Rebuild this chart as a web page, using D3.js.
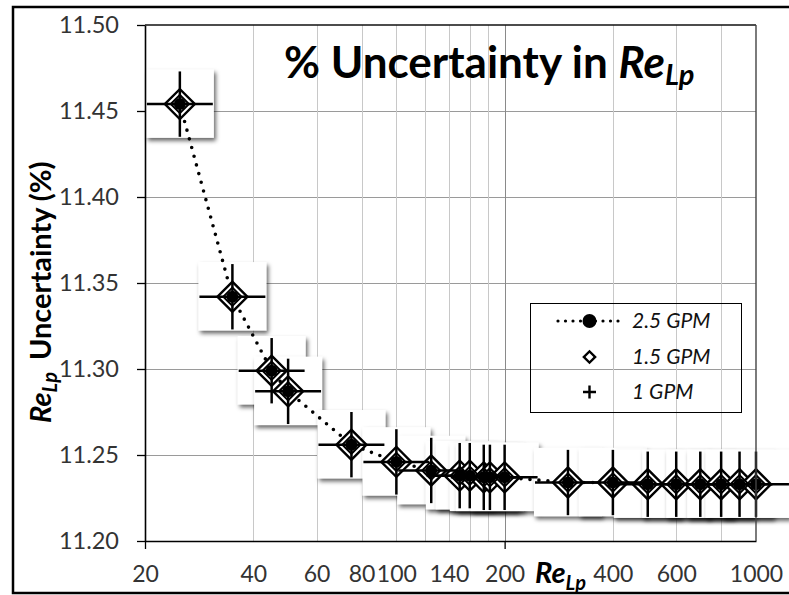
<!DOCTYPE html>
<html><head><meta charset="utf-8">
<script src="https://cdn.jsdelivr.net/npm/d3@7"></script>
<style>
body{margin:0;background:#fff}
svg{display:block}
text{font-family:Lato,'Open Sans',sans-serif}
</style>
</head><body>
<svg id="c" width="789" height="595"></svg>
<script>
// ---- data ----
const reLp    = [25, 35, 45, 50, 75, 100, 125, 150, 160, 175, 182, 200, 300, 400, 500, 600, 700, 800, 900, 1000];
const unc2_5  = [11.454, 11.342, 11.299, 11.287, 11.256, 11.246, 11.241, 11.238, 11.238, 11.237, 11.237, 11.237, 11.234, 11.234, 11.233, 11.233, 11.233, 11.233, 11.233, 11.233];
const unc1_5  = [11.454, 11.342, 11.299, 11.287, 11.256, 11.246, 11.241, 11.238, 11.238, 11.237, 11.237, 11.237, 11.234, 11.234, 11.233, 11.233, 11.233, 11.233, 11.233, 11.233];
const unc1    = [11.454, 11.342, 11.299, 11.287, 11.256, 11.246, 11.241, 11.238, 11.238, 11.237, 11.237, 11.237, 11.234, 11.234, 11.233, 11.233, 11.233, 11.233, 11.233, 11.233];
const seriesNames = ["2.5 GPM", "1.5 GPM", "1 GPM"];
const xTickLabels = [20, 40, 60, 80, 100, 140, 200, 400, 600, 1000];
const xMinorGrid  = [40, 60, 80, 100, 120, 140, 160, 180, 400, 600, 800];
const xMajorGrid  = [200];
const xMajorTicks = [20, 200];
const yTicks = [11.20, 11.25, 11.30, 11.35, 11.40, 11.45, 11.50];
const yErr = 0.019;        // vertical error bar half-size
const xErrFactor = 1.235;  // horizontal error bar (multiplicative)

// ---- layout ----
const L = 145, R = 756, T = 25, B = 541;
const FONT = "Lato,'Open Sans',sans-serif";
const svg = d3.select("#c");
const x = d3.scaleLog().domain([20, 1000]).range([L, R]);
const y = d3.scaleLinear().domain([11.20, 11.50]).range([B, T]);

const defs = svg.append("defs");
const flt = defs.append("filter").attr("id", "sh")
  .attr("x", "-30%").attr("y", "-30%").attr("width", "170%").attr("height", "180%");
flt.append("feDropShadow").attr("dx", 2).attr("dy", 3).attr("stdDeviation", 2.2)
  .attr("flood-color", "#000").attr("flood-opacity", 0.6);

// outer frame
svg.append("rect").attr("x", 13).attr("y", 7).attr("width", 800).attr("height", 586)
  .attr("fill", "#fff").attr("stroke", "#000").attr("stroke-width", 2.5);

// gridlines
const grid = svg.append("g");
grid.selectAll(".hg").data(yTicks.filter(v => v > 11.2 && v < 11.5)).join("line")
  .attr("x1", L).attr("x2", R)
  .attr("y1", d => Math.round(y(d)) + 0.5).attr("y2", d => Math.round(y(d)) + 0.5)
  .attr("stroke", "#9a9a9a").attr("stroke-width", 1);
grid.selectAll(".vm").data(xMinorGrid).join("line")
  .attr("x1", d => Math.round(x(d)) + 0.5).attr("x2", d => Math.round(x(d)) + 0.5)
  .attr("y1", T).attr("y2", B)
  .attr("stroke", "#c8c8c8").attr("stroke-width", 1);
grid.selectAll(".vM").data(xMajorGrid).join("line")
  .attr("x1", d => Math.round(x(d)) + 0.5).attr("x2", d => Math.round(x(d)) + 0.5)
  .attr("y1", T).attr("y2", B)
  .attr("stroke", "#8a8a8a").attr("stroke-width", 1);

const pts = reLp.map((r, i) => ({ r, v: unc2_5[i], v15: unc1_5[i], v1: unc1[i] }));

// error-bar shadow boxes
svg.append("g").selectAll("rect").data(pts).join("rect")
  .attr("x", d => x(d.r / xErrFactor) - 1)
  .attr("y", d => y(d.v + yErr) - 2)
  .attr("width", d => x(d.r * xErrFactor) - x(d.r / xErrFactor) + 2)
  .attr("height", d => y(d.v - yErr) - y(d.v + yErr) + 3)
  .attr("fill", "#fff").attr("filter", "url(#sh)");

// dotted line (2.5 GPM)
svg.append("path").datum(pts)
  .attr("d", d3.line().x(d => x(d.r)).y(d => y(d.v)))
  .attr("fill", "none").attr("stroke", "#000").attr("stroke-width", 3.6)
  .attr("stroke-linecap", "round").attr("stroke-dasharray", "0,9");

// 1.5 GPM diamonds (double outline)
const dOuter = d3.symbol(d3.symbolSquare, 450)();
const dInner = d3.symbol(d3.symbolSquare, 165)();
const dg = svg.append("g");
dg.selectAll(".do").data(pts).join("path")
  .attr("d", dOuter).attr("transform", d => `translate(${x(d.r)},${y(d.v15)}) rotate(45)`)
  .attr("fill", "#fff").attr("stroke", "#000").attr("stroke-width", 2.4);
dg.selectAll(".di").data(pts).join("path")
  .attr("d", dInner).attr("transform", d => `translate(${x(d.r)},${y(d.v15)}) rotate(45)`)
  .attr("fill", "#fff").attr("stroke", "#000").attr("stroke-width", 2);

// error bars
const eb = svg.append("g").attr("stroke", "#000").attr("stroke-width", 2.5);
eb.selectAll(".ev").data(pts).join("line")
  .attr("x1", d => x(d.r)).attr("x2", d => x(d.r))
  .attr("y1", d => y(d.v + yErr)).attr("y2", d => y(d.v - yErr));
eb.selectAll(".eh").data(pts).join("line")
  .attr("x1", d => x(d.r / xErrFactor)).attr("x2", d => x(d.r * xErrFactor))
  .attr("y1", d => y(d.v)).attr("y2", d => y(d.v));

// 1 GPM plus markers
svg.append("g").selectAll("path").data(pts).join("path")
  .attr("d", d => `M${x(d.r) - 5},${y(d.v1)}H${x(d.r) + 5}M${x(d.r)},${y(d.v1) - 5}V${y(d.v1) + 5}`)
  .attr("stroke", "#000").attr("stroke-width", 2.2);

// 2.5 GPM circles
svg.append("g").selectAll("circle").data(pts).join("circle")
  .attr("cx", d => x(d.r)).attr("cy", d => y(d.v)).attr("r", 6).attr("fill", "#000");

// axes
const yAxis = svg.append("g").attr("transform", `translate(${L},0)`)
  .call(d3.axisLeft(y).tickValues(yTicks).tickFormat(d3.format(".2f"))
    .tickSize(8).tickSizeOuter(0).tickPadding(18));
yAxis.attr("font-family", FONT).attr("font-size", 23.5);
yAxis.select(".domain").attr("stroke", "#000").attr("stroke-width", 1.6);
yAxis.selectAll(".tick line").attr("stroke", "#000").attr("stroke-width", 1.3);
yAxis.selectAll("text").attr("fill", "#333");

const xAxis = svg.append("g").attr("transform", `translate(0,${B})`)
  .call(d3.axisBottom(x).tickValues(xTickLabels).tickFormat(d3.format("d"))
    .tickSize(0).tickSizeOuter(0).tickPadding(25));
xAxis.attr("font-family", FONT).attr("font-size", 23);
xAxis.select(".domain").attr("stroke", "#000").attr("stroke-width", 1.6);
xAxis.selectAll("text").attr("fill", "#333");
xAxis.selectAll(".tick").filter(d => xMajorTicks.includes(d)).select("line")
  .attr("y2", 8).attr("stroke", "#000").attr("stroke-width", 1.3);

// plot border top/right
svg.append("line").attr("x1", L).attr("x2", R).attr("y1", T).attr("y2", T)
  .attr("stroke", "#111").attr("stroke-width", 1.6);
svg.append("line").attr("x1", R).attr("x2", R).attr("y1", T).attr("y2", B)
  .attr("stroke", "#444").attr("stroke-width", 1.4);

// legend
const lg = svg.append("g");
lg.append("rect").attr("x", 530.5).attr("y", 303.5).attr("width", 211).attr("height", 109)
  .attr("fill", "none").attr("stroke", "#000").attr("stroke-width", 1);
const rowsY = [321, 357, 392];
lg.append("line").attr("x1", 558).attr("x2", 621).attr("y1", rowsY[0]).attr("y2", rowsY[0])
  .attr("stroke", "#000").attr("stroke-width", 3.2).attr("stroke-linecap", "round").attr("stroke-dasharray", "0,7.5");
lg.append("circle").attr("cx", 589.5).attr("cy", rowsY[0]).attr("r", 7).attr("fill", "#000");
lg.append("path").attr("d", d3.symbol(d3.symbolSquare, 64)())
  .attr("transform", `translate(589.5,${rowsY[1]}) rotate(45)`)
  .attr("fill", "#fff").attr("stroke", "#000").attr("stroke-width", 2.4);
lg.append("path").attr("d", `M583,${rowsY[2]}H596M589.5,${rowsY[2] - 6.5}V${rowsY[2] + 6.5}`)
  .attr("stroke", "#000").attr("stroke-width", 2.4);
lg.selectAll("text").data(seriesNames).join("text")
  .attr("x", 632).attr("y", (d, i) => rowsY[i]).attr("dy", "0.35em")
  .attr("font-size", 21).attr("font-style", "italic").attr("fill", "#111").text(d => d);

// title
const title = svg.append("text").attr("x", 284).attr("y", 78)
  .attr("font-size", 44).attr("font-weight", "bold").attr("fill", "#000");
title.append("tspan").text("% Uncertainty in ");
title.append("tspan").attr("font-style", "italic").text("Re");
title.append("tspan").attr("font-style", "italic").attr("font-size", 29).attr("dy", 7).text("Lp");

// y-axis title
const yt = svg.append("text").attr("transform", "translate(51,423) rotate(-90)")
  .attr("font-size", 29).attr("font-weight", "bold").attr("fill", "#000");
yt.append("tspan").attr("font-style", "italic").text("Re");
yt.append("tspan").attr("font-style", "italic").attr("font-size", 20).attr("dy", 6).text("Lp");
yt.append("tspan").attr("dy", -6).attr("dx", 12).text("Uncertainty (%)");

// x-axis title
const xt = svg.append("text").attr("x", 535).attr("y", 583)
  .attr("font-size", 29).attr("font-weight", "bold").attr("font-style", "italic").attr("fill", "#000");
xt.append("tspan").text("Re");
xt.append("tspan").attr("font-size", 20).attr("dy", 7).text("Lp");
</script>
</body></html>
